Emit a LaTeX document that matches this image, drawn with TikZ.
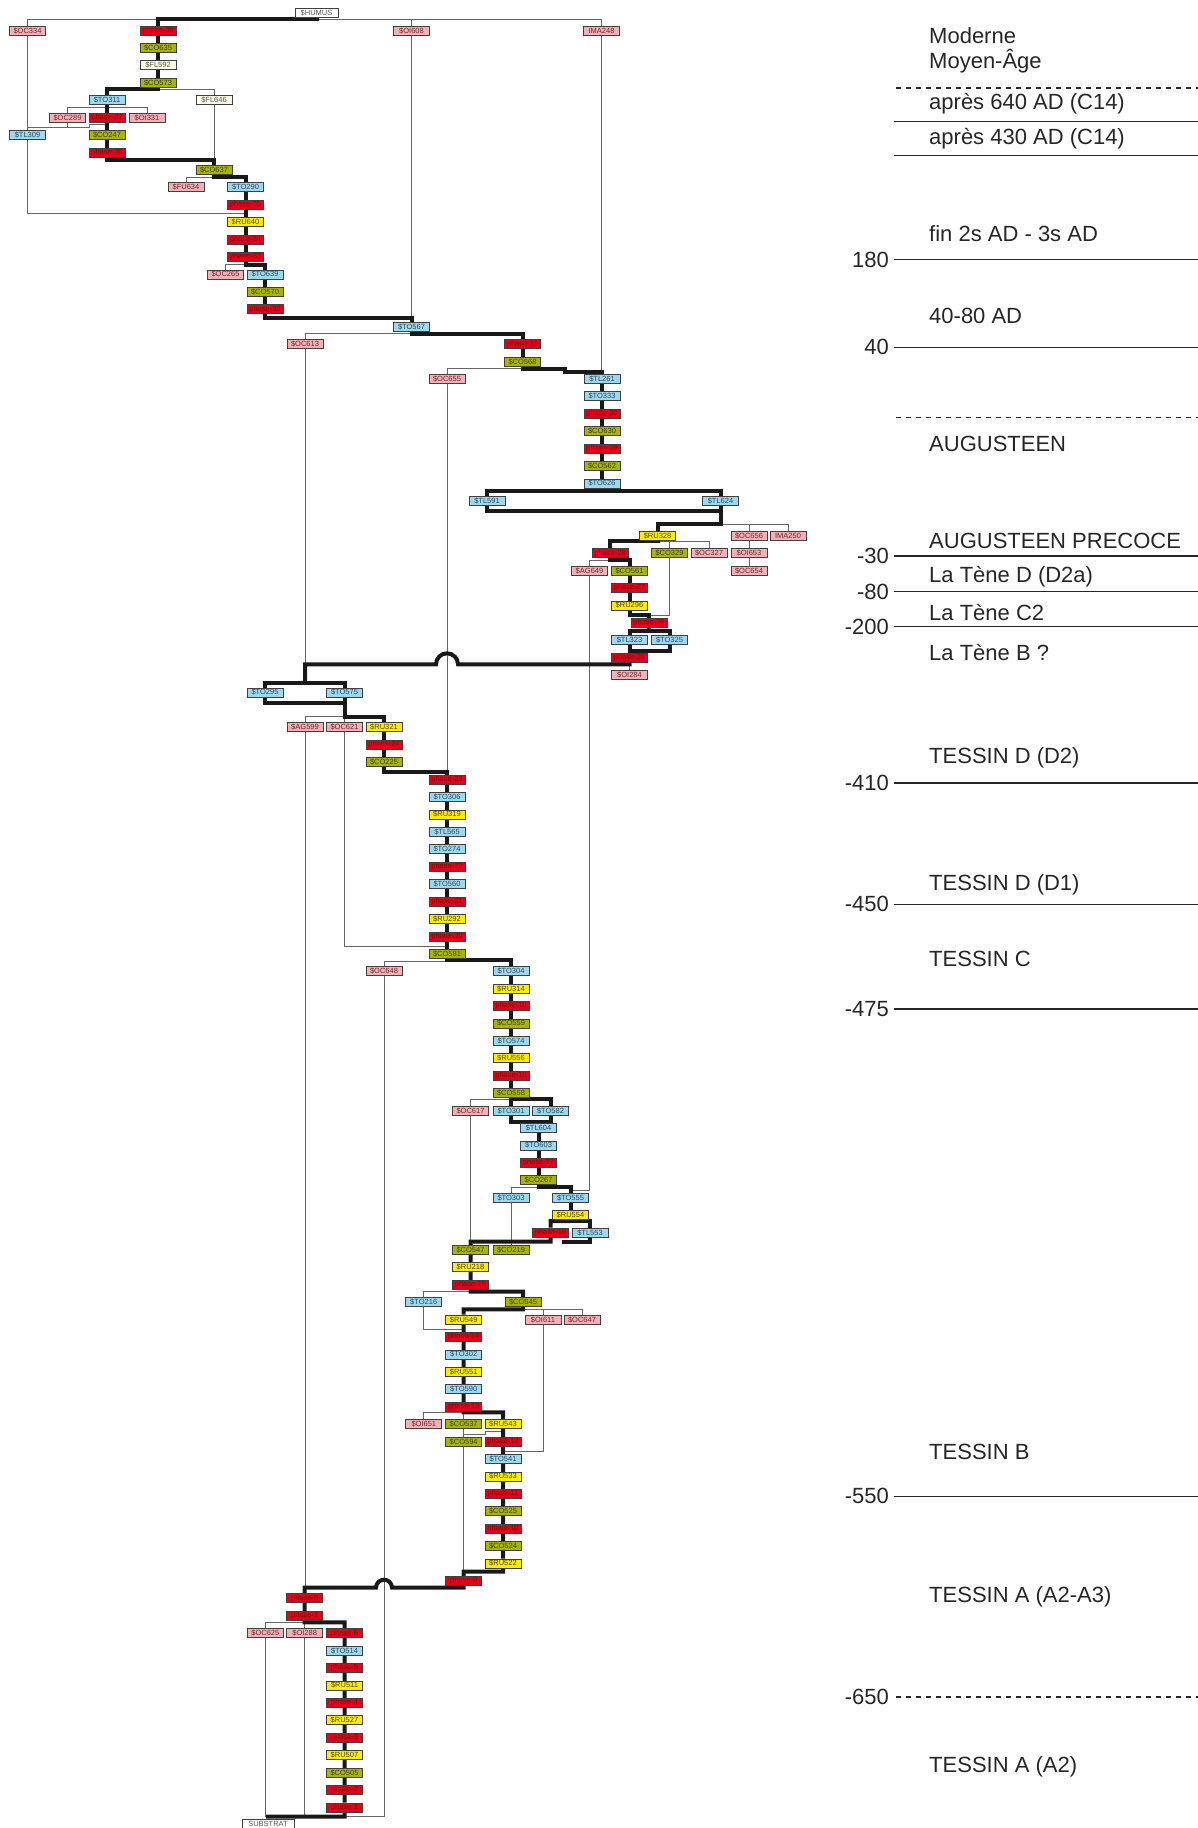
\documentclass[tikz,border=0pt]{standalone}
\usepackage{fontspec}
\setmainfont{Liberation Sans}
\usetikzlibrary{calc}
\pgfdeclarelayer{bg}
\pgfsetlayers{bg,main}
\definecolor{redf}{HTML}{E2001A}\definecolor{redt}{HTML}{7A0A14}
\definecolor{greenf}{HTML}{A9B500}\definecolor{greent}{HTML}{3A3F00}
\definecolor{bluef}{HTML}{9ED8F0}\definecolor{bluet}{HTML}{2A4A5A}
\definecolor{yellowf}{HTML}{FFEC00}\definecolor{yellowt}{HTML}{4A4000}
\definecolor{pinkf}{HTML}{F5B0B5}\definecolor{pinkt}{HTML}{6A2A30}
\definecolor{creamf}{HTML}{FFFCE6}\definecolor{greyt}{HTML}{555555}
\newcommand\mkn[5]{\node[#1] (#2) at (#3,{30.5+17.42*(#4)}) {#5};}
\tikzset{
 bx/.style={draw=black!75, line width=0.7pt, minimum width=36pt, minimum height=9pt, inner sep=0pt, font=\fontsize{7.5}{8}\selectfont},
 rb/.style={bx, fill=redf, text=redt},
 gb/.style={bx, fill=greenf, text=greent},
 bb/.style={bx, fill=bluef, text=bluet},
 yb/.style={bx, fill=yellowf, text=yellowt},
 pb/.style={bx, fill=pinkf, text=pinkt},
 cb/.style={bx, fill=creamf, text=greyt},
 wb/.style={bx, fill=white, text=greyt},
 thk/.style={line width=4pt, draw=black!90, line join=miter},
 thn/.style={line width=1pt, draw=black!60},
 lgs/.style={line width=1.5pt, draw=black!85},
 lgd/.style={line width=1.5pt, draw=black!85, dash pattern=on 5pt off 5pt},
 lbl/.style={font=\fontsize{22}{24}\selectfont, anchor=base west, inner sep=0pt, text=black!85},
 num/.style={font=\fontsize{22}{24}\selectfont, anchor=east, inner sep=0pt, text=black!85},
}
\begin{document}
\begin{tikzpicture}[x=1pt,y=-1pt]
\useasboundingbox (0,0) rectangle (1198,1828);
% ---------- nodes ----------
\node[wb, minimum width=43pt] (humus) at (316.5,13.1) {\$HUMUS};
\mkn{pb}{soc334}{27.5}{0}{\$OC334}
\mkn{rb}{p38}{158}{0}{phase-38}
\mkn{pb}{soi608}{411.5}{0}{\$OI608}
\mkn{pb}{ima248}{601.5}{0}{IMA248}
\mkn{gb}{co635}{158}{1}{\$CO635}
\mkn{cb}{fl592}{158}{2}{\$FL592}
\mkn{gb}{co573}{158}{3}{\$CO573}
\mkn{bb}{to311}{107}{4}{\$TO311}
\mkn{cb}{fl646}{214}{4}{\$FL646}
\mkn{pb}{oc289}{67.5}{5}{\$OC289}
\mkn{rb}{p37}{107}{5}{phase-37}
\mkn{pb}{oi331}{147}{5}{\$OI331}
\mkn{bb}{tl309}{27.5}{6}{\$TL309}
\mkn{gb}{co247}{107}{6}{\$CO247}
\mkn{rb}{p36}{107}{7}{phase-36}
\mkn{gb}{co637}{214}{8}{\$CO637}
\mkn{pb}{fu634}{186}{9}{\$FU634}
\mkn{bb}{to290}{245.5}{9}{\$TO290}
\mkn{rb}{p35}{245.5}{10}{phase-35}
\mkn{yb}{ru640}{245.5}{11}{\$RU640}
\mkn{rb}{p34}{245.5}{12}{phase-34}
\mkn{rb}{p33}{245.5}{13}{phase-33}
\mkn{pb}{oc265}{225.5}{14}{\$OC265}
\mkn{bb}{to639}{265}{14}{\$TO639}
\mkn{gb}{co570}{265}{15}{\$CO570}
\mkn{rb}{p32}{265}{16}{phase-32}
\mkn{bb}{to567}{411.5}{17}{\$TO567}
\mkn{pb}{oc613}{305}{18}{\$OC613}
\mkn{rb}{p31}{522.5}{18}{phase-31}
\mkn{gb}{co568}{522.5}{19}{\$CO568}
\mkn{pb}{oc655}{447}{20}{\$OC655}
\mkn{bb}{tl261}{602}{20}{\$TL261}
\mkn{bb}{to333}{602}{21}{\$TO333}
\mkn{rb}{p30}{602}{22}{phase-30}
\mkn{gb}{co630}{602}{23}{\$CO630}
\mkn{rb}{p29}{602}{24}{phase-29}
\mkn{gb}{co562}{602}{25}{\$CO562}
\mkn{bb}{to626}{602}{26}{\$TO626}
\mkn{bb}{tl591}{487}{27}{\$TL591}
\mkn{bb}{tl624}{720.5}{27}{\$TL624}
\mkn{yb}{ru328}{657.5}{29}{\$RU328}
\mkn{pb}{oc656}{749}{29}{\$OC656}
\mkn{pb}{ima250}{788}{29}{IMA250}
\mkn{rb}{p28}{610}{30}{phase-28}
\mkn{gb}{co329}{669.5}{30}{\$CO329}
\mkn{pb}{oc327}{709}{30}{\$OC327}
\mkn{pb}{oi653}{749}{30}{\$OI653}
\mkn{pb}{ag649}{589.5}{31}{\$AG649}
\mkn{gb}{co561}{629.5}{31}{\$CO561}
\mkn{pb}{oc654}{749}{31}{\$OC654}
\mkn{rb}{p27}{629.5}{32}{phase-27}
\mkn{yb}{ru296}{629.5}{33}{\$RU296}
\mkn{rb}{p26}{649}{34}{phase-26}
\mkn{bb}{tl323}{629.5}{35}{\$TL323}
\mkn{bb}{to325}{669.5}{35}{\$TO325}
\mkn{rb}{p25}{629.5}{36}{phase-25}
\mkn{pb}{oi284}{629.5}{37}{\$OI284}
\mkn{bb}{to295}{265}{38}{\$TO295}
\mkn{bb}{to575}{344.5}{38}{\$TO575}
\mkn{pb}{ag599}{305}{40}{\$AG599}
\mkn{pb}{oc621}{344.5}{40}{\$OC621}
\mkn{yb}{ru321}{384}{40}{\$RU321}
\mkn{rb}{p24}{384}{41}{phase-24}
\mkn{gb}{co225}{384}{42}{\$CO225}
\mkn{rb}{p23}{447}{43}{phase-23}
\mkn{bb}{to306}{447}{44}{\$TO306}
\mkn{yb}{ru319}{447}{45}{\$RU319}
\mkn{bb}{tl565}{447}{46}{\$TL565}
\mkn{bb}{to274}{447}{47}{\$TO274}
\mkn{rb}{p22}{447}{48}{phase-22}
\mkn{bb}{to560}{447}{49}{\$TO560}
\mkn{rb}{p21}{447}{50}{phase-21}
\mkn{yb}{ru292}{447}{51}{\$RU292}
\mkn{rb}{p20}{447}{52}{phase-20}
\mkn{gb}{co581}{447}{53}{\$CO581}
\mkn{pb}{oc648}{384}{54}{\$OC648}
\mkn{bb}{to304}{511}{54}{\$TO304}
\mkn{yb}{ru314}{511}{55}{\$RU314}
\mkn{rb}{p19}{511}{56}{phase-19}
\mkn{gb}{co559}{511}{57}{\$CO559}
\mkn{bb}{to574}{511}{58}{\$TO574}
\mkn{yb}{ru556}{511}{59}{\$RU556}
\mkn{rb}{p18}{511}{60}{phase-18}
\mkn{gb}{co558}{511}{61}{\$CO558}
\mkn{pb}{oc617}{470.5}{62}{\$OC617}
\mkn{bb}{to301}{511}{62}{\$TO301}
\mkn{bb}{to582}{550.5}{62}{\$TO582}
\mkn{bb}{tl604}{538.5}{63}{\$TL604}
\mkn{bb}{to603}{538.5}{64}{\$TO603}
\mkn{rb}{p17}{538.5}{65}{phase-17}
\mkn{gb}{co267}{538.5}{66}{\$CO267}
\mkn{bb}{to303}{511}{67}{\$TO303}
\mkn{bb}{to555}{570.5}{67}{\$TO555}
\mkn{yb}{ru554}{570.5}{68}{\$RU554}
\mkn{rb}{p16}{550.5}{69}{phase-16}
\mkn{bb}{tl553}{590}{69}{\$TL553}
\mkn{gb}{co547}{470.5}{70}{\$CO547}
\mkn{gb}{co219}{511}{70}{\$CO219}
\mkn{yb}{ru218}{470.5}{71}{\$RU218}
\mkn{rb}{p15}{470.5}{72}{phase-15}
\mkn{bb}{to216}{423.7}{73}{\$TO216}
\mkn{gb}{co545}{523}{73}{\$CO545}
\mkn{yb}{ru549}{463.7}{74}{\$RU549}
\mkn{pb}{oi611}{543}{74}{\$OI611}
\mkn{pb}{oc647}{582}{74}{\$OC647}
\mkn{rb}{p14}{463.7}{75}{phase-14}
\mkn{bb}{to302}{463.7}{76}{\$TO302}
\mkn{yb}{ru551}{463.7}{77}{\$RU551}
\mkn{bb}{to590}{463.7}{78}{\$TO590}
\mkn{rb}{p13}{463.7}{79}{phase-13}
\mkn{pb}{oi651}{423.8}{80}{\$OI651}
\mkn{gb}{co537}{463.7}{80}{\$CO537}
\mkn{yb}{ru543}{503}{80}{\$RU543}
\mkn{gb}{co594}{463.7}{81}{\$CO594}
\mkn{rb}{p12}{503}{81}{phase-12}
\mkn{bb}{to541}{503}{82}{\$TO541}
\mkn{yb}{ru533}{503}{83}{\$RU533}
\mkn{rb}{p11}{503}{84}{phase-11}
\mkn{gb}{co525}{503}{85}{\$CO525}
\mkn{rb}{p10}{503}{86}{phase-10}
\mkn{gb}{co524}{503}{87}{\$CO524}
\mkn{yb}{ru522}{503}{88}{\$RU522}
\mkn{rb}{p9}{463.7}{89}{phase-9}
\mkn{rb}{p8}{304.7}{90}{phase-8}
\mkn{rb}{p7}{304.7}{91}{phase-7}
\mkn{pb}{oc625}{265.3}{92}{\$OC625}
\mkn{pb}{oi288}{304.7}{92}{\$OI288}
\mkn{rb}{p6}{344.5}{92}{phase-6}
\mkn{bb}{to514}{344.5}{93}{\$TO514}
\mkn{rb}{p5}{344.5}{94}{phase-5}
\mkn{yb}{ru511}{344.5}{95}{\$RU511}
\mkn{rb}{p4}{344.5}{96}{phase-4}
\mkn{yb}{ru527}{344.5}{97}{\$RU527}
\mkn{rb}{p3}{344.5}{98}{phase-3}
\mkn{yb}{ru507}{344.5}{99}{\$RU507}
\mkn{gb}{co505}{344.5}{100}{\$CO505}
\mkn{rb}{p2}{344.5}{101}{phase-2}
\mkn{rb}{p1}{344.5}{102}{phase-1}
\node[wb, minimum width=52pt] (substrat) at (268,1823.5) {SUBSTRAT};
% ---------- connectors ----------
\begin{pgfonlayer}{bg}
% thin
\draw[thn] (soc334 |- 0,19.3) -- (ima248 |- 0,19.3);
\draw[thn] (soc334 |- 0,19.3) -- (soc334) -- (tl309);
\draw[thn] (soi608 |- 0,19.3) -- (soi608) -- (soi608 |- 0,318);
\draw[thn] (ima248 |- 0,19.3) -- (ima248) -- (ima248 |- 0,371.7);
\draw[thn] (soc334 |- 0,127) -- (89,127) -- (89,124.5) -- (p37 |- 0,124.5);
\draw[thn] (oc289) -- (oc289 |- 0,127);
\draw[thn] (oc289) -- (oc289 |- 0,107.3) -- (oi331 |- 0,107.3) -- (oi331);
\draw[thn] (co573 |- 0,89.3) -- (fl646 |- 0,89.3) -- (fl646) -- (fl646 |- 0,159.7);
\draw[thn] (co637 |- 0,177) -- (fu634 |- 0,177) -- (fu634);
\draw[thn] (p33 |- 0,264.7) -- (oc265 |- 0,264.7) -- (oc265);
\draw[thn] (tl309) -- (tl309 |- 0,213.5) -- (p35 |- 0,213.5);
\draw[thn] (to567 |- 0,333.3) -- (oc613 |- 0,333.3) -- (oc613) -- (oc613 |- 0,664.3);
\draw[thn] (co568 |- 0,368.7) -- (oc655 |- 0,368.7) -- (oc655) -- (oc655 |- 0,771.7);
\draw[thn] (tl624 |- 0,524.3) -- (ima250 |- 0,524.3) -- (ima250);
\draw[thn] (oc656 |- 0,524.3) -- (oc656) -- (oc654);
\draw[thn] (ru328 |- 0,541) -- (oc327 |- 0,541) -- (oc327);
\draw[thn] (co329 |- 0,541) -- (co329) -- (co329 |- 0,615) -- (p26 |- 0,615);
\draw[thn] (p28 |- 0,560) -- (ag649 |- 0,560) -- (ag649) -- (ag649 |- 0,1190) -- (to555 |- 0,1190);
\draw[thn] (p25) -- (oi284);
\draw[thn] (to575 |- 0,716.7) -- (ag599 |- 0,716.7) -- (ag599) -- (ag599 |- 0,1587.7);
\draw[thn] (to575 |- 0,716.7) -- (oc621) -- (oc621 |- 0,946) -- (p23 |- 0,946);
\draw[thn] (co581 |- 0,961) -- (oc648 |- 0,961) -- (oc648) -- (oc648 |- 0,1816.7) -- (p1 |- 0,1816.7);
\draw[thn] (co558 |- 0,1099) -- (oc617 |- 0,1099) -- (oc617) -- (oc617 |- 0,1241.7);
\draw[thn] (co267 |- 0,1187.3) -- (to303 |- 0,1187.3) -- (to303) -- (co219);
\draw[thn] (p15 |- 0,1291.7) -- (to216 |- 0,1291.7) -- (to216) -- (to216 |- 0,1329.3) -- (ru549 |- 0,1329.3);
\draw[thn] (co545 |- 0,1309.3) -- (oc647 |- 0,1309.3) -- (oc647);
\draw[thn] (oi611 |- 0,1309.3) -- (oi611) -- (oi611 |- 0,1451) -- (p12 |- 0,1451);
\draw[thn] (p13 |- 0,1412.3) -- (oi651 |- 0,1412.3) -- (oi651);
\draw[thn] (p13) -- (co537) -- (co594) -- (p9);
\draw[thn] (co537 |- 0,1434.3) -- (485,1434.3) -- (485,1431) -- (p12 |- 0,1431);
\draw[thn] (p7 |- 0,1622.3) -- (oc625 |- 0,1622.3) -- (oc625) -- (oc625 |- 0,1816.7);
\draw[thn] (p7) -- (oi288) -- (oi288 |- 0,1816.7);
% thick
\draw[thk] (humus) -- (humus |- 0,19.5) -- (p38 |- 0,19.5) -- (p38) -- (co573);
\draw[thk] (co573) -- (co573 |- 0,89.3) -- (to311 |- 0,89.3) -- (to311) -- (p36);
\draw[thk] (p36) -- (p36 |- 0,159.7) -- (co637 |- 0,159.7) -- (co637);
\draw[thk] (co637) -- (co637 |- 0,177) -- (to290 |- 0,177) -- (to290) -- (p33);
\draw[thk] (p33) -- (p33 |- 0,264.7) -- (to639 |- 0,264.7) -- (to639) -- (p32);
\draw[thk] (p32) -- (p32 |- 0,318) -- (to567 |- 0,318) -- (to567);
\draw[thk] (to567) -- (to567 |- 0,334) -- (p31 |- 0,334) -- (p31) -- (co568);
\draw[thk] (co568) -- (co568 |- 0,369) -- (565,369) -- (565,371.7) -- (tl261 |- 0,371.7) -- (tl261) -- (to626) -- (to626 |- 0,490.7);
\draw[thk] (tl591) -- (tl591 |- 0,490.7) -- (tl624 |- 0,490.7) -- (tl624) -- (tl624 |- 0,524.3) -- (ru328 |- 0,524.3) -- (ru328);
\draw[thk] (tl591) -- (tl591 |- 0,510.7) -- (tl624 |- 0,510.7);
\draw[thk] (ru328) -- (ru328 |- 0,541) -- (p28 |- 0,541) -- (p28) -- (p28 |- 0,560) -- (co561 |- 0,560) -- (co561) -- (ru296) -- (ru296 |- 0,615) -- (p26 |- 0,615) -- (p26) -- (p26 |- 0,630.7);
\draw[thk] (tl323) -- (tl323 |- 0,630.7) -- (to325 |- 0,630.7) -- (to325) -- (to325 |- 0,650.7) -- (tl323 |- 0,650.7);
\draw[thk] (tl323) -- (p25);
\draw[thk] (p25) -- (p25 |- 0,664.3) -- ($(oc655 |- 0,664.3)+(11,0)$) arc[start angle=0,end angle=-180,radius=11] -- (oc613 |- 0,664.3) -- (oc613 |- 0,682.7);
\draw[thk] (to295) -- (to295 |- 0,682.7) -- (to575 |- 0,682.7) -- (to575);
\draw[thk] (to295) -- (to295 |- 0,703.3) -- (to575 |- 0,703.3);
\draw[thk] (to575) -- (to575 |- 0,716.7) -- (ru321 |- 0,716.7) -- (ru321) -- (co225) -- (co225 |- 0,771.7) -- (p23 |- 0,771.7) -- (p23) -- (co581) -- (co581 |- 0,960) -- (to304 |- 0,960) -- (to304) -- (to301);
\draw[thk] (co558) -- (co558 |- 0,1099) -- (to582 |- 0,1099) -- (to582) -- (to582 |- 0,1121.7) -- (to301 |- 0,1121.7) -- (to301);
\draw[thk] (tl604 |- 0,1121.7) -- (tl604) -- (co267) -- (co267 |- 0,1187.3) -- (to555 |- 0,1187.3) -- (to555) -- (ru554) -- (ru554 |- 0,1221) -- (tl553 |- 0,1221) -- (tl553) -- (tl553 |- 0,1241.7) -- (562.3,1241.7);
\draw[thk] (ru554 |- 0,1221) -- (p16 |- 0,1221) -- (p16) -- (p16 |- 0,1241.7) -- (co547 |- 0,1241.7) -- (co547) -- (p15) -- (p15 |- 0,1291.7) -- (co545 |- 0,1291.7) -- (co545) -- (co545 |- 0,1309.3) -- (ru549 |- 0,1309.3) -- (ru549) -- (p13) -- (p13 |- 0,1412.3) -- (ru543 |- 0,1412.3) -- (ru543) -- (ru522) -- (ru522 |- 0,1571.7) -- (p9 |- 0,1571.7) -- (p9) -- (p9 |- 0,1587.7) -- ($(oc648 |- 0,1587.7)+(8,0)$) arc[start angle=0,end angle=-180,radius=8] -- (p8 |- 0,1587.7) -- (p8) -- (p7) -- (p7 |- 0,1622.3) -- (p6 |- 0,1622.3) -- (p6) -- (p1) -- (p1 |- 0,1816.7) -- (substrat |- 0,1816.7) -- (substrat);
\end{pgfonlayer}
% ---------- legend ----------
\draw[lgd] (896,88) -- (1198,88);
\draw[lgs] (894,121.3) -- (1198,121.3);
\draw[lgs] (894,155.7) -- (1198,155.7);
\draw[lgs] (894,259.5) -- (1198,259.5);
\draw[lgs] (894,347.3) -- (1198,347.3);
\draw[lgd] (896,417.7) -- (1198,417.7);
\draw[lgs] (894,556) -- (1198,556);
\draw[lgs] (894,591.5) -- (1198,591.5);
\draw[lgs] (894,626.5) -- (1198,626.5);
\draw[lgs] (894,783.2) -- (1198,783.2);
\draw[lgs] (894,904.4) -- (1198,904.4);
\draw[lgs] (894,1009.2) -- (1198,1009.2);
\draw[lgs] (894,1496.4) -- (1198,1496.4);
\draw[lgd] (896,1696.8) -- (1198,1696.8);
\node[num] (n180) at (889,259.5) {180};
\node[num] (n40) at (889,347.3) {40};
\node[num] (n30) at (889,556) {-30};
\node[num] (n80) at (889,591.5) {-80};
\node[num] (n200) at (889,626.5) {-200};
\node[num] (n410) at (889,783.2) {-410};
\node[num] (n450) at (889,904.4) {-450};
\node[num] (n475) at (889,1009.2) {-475};
\node[num] (n550) at (889,1496.4) {-550};
\node[num] (n650) at (889,1696.8) {-650};
\node[lbl] (l1) at (929,43.5) {Moderne};
\node[lbl] (l2) at (929,68) {Moyen-Âge};
\node[lbl] (l3) at (929,110) {après 640 AD (C14)};
\node[lbl] (l4) at (929,144.5) {après 430 AD (C14)};
\node[lbl] (l5) at (929,241) {fin 2s AD - 3s AD};
\node[lbl] (l6) at (929,323) {40-80 AD};
\node[lbl] (l7) at (929,451) {AUGUSTEEN};
\node[lbl] (l8) at (929,548) {AUGUSTEEN PRECOCE};
\node[lbl] (l9) at (929,582) {La Tène D (D2a)};
\node[lbl] (l10) at (929,620) {La Tène C2};
\node[lbl] (l11) at (929,660) {La Tène B ?};
\node[lbl] (l12) at (929,763) {TESSIN D (D2)};
\node[lbl] (l13) at (929,890) {TESSIN D (D1)};
\node[lbl] (l14) at (929,966) {TESSIN C};
\node[lbl] (l15) at (929,1459) {TESSIN B};
\node[lbl] (l16) at (929,1602) {TESSIN A (A2-A3)};
\node[lbl] (l17) at (929,1772) {TESSIN A (A2)};
\end{tikzpicture}
\end{document}
